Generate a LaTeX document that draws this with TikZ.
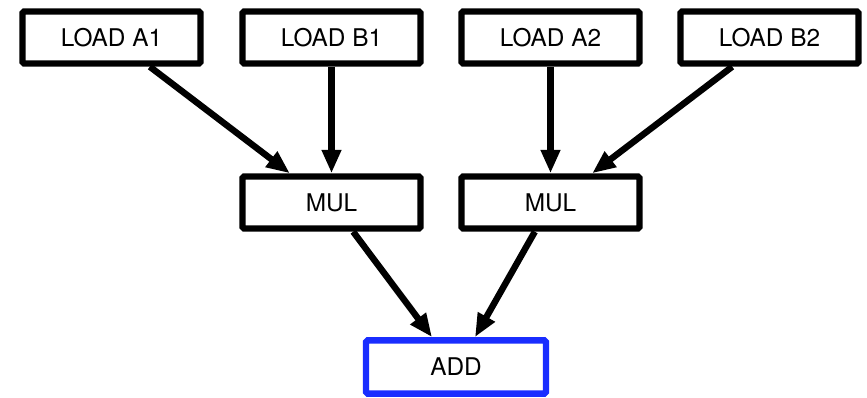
\documentclass[tikz,border=0pt]{standalone}
\usepackage{fontspec}
\setmainfont{TeX Gyre Heros}
\usetikzlibrary{arrows.meta,calc}
\definecolor{addblue}{RGB}{25,45,255}

\begin{document}
\begin{tikzpicture}[
  every node/.style={font=\fontsize{20.8}{24}\selectfont},
  op/.style={draw, line width=5.5pt, rounded corners=1.5pt, inner sep=2pt,
    minimum width=5.34cm, minimum height=1.56cm},
  sink/.style={draw=addblue},
  arr/.style={line width=5.5pt, -{Triangle[length=7mm, width=5.5mm]}}]
\useasboundingbox (0,0) rectangle (26.01,11.91);
% loads
\node[op] (la1) at (3.345,10.785) {LOAD A1};
\node[op] (lb1) at (9.945,10.785) {LOAD B1};
\node[op] (la2) at (16.515,10.785) {LOAD A2};
\node[op] (lb2) at (23.085,10.785) {LOAD B2};
% products
\node[op] (mul1) at (9.945,5.835) {MUL};
\node[op] (mul2) at (16.515,5.835) {MUL};
% sum
\node[op, sink, minimum width=5.4cm, minimum height=1.6cm] (add) at (13.68,0.9) {ADD};
\draw[arr] ($(la1.south)+(1.15,0)$) -- ($(mul1.north)+(-1.25,0)$);
\draw[arr] (lb1.south) -- (mul1.north);
\draw[arr] (la2.south) -- (mul2.north);
\draw[arr] ($(lb2.south)+(-1.12,0)$) -- ($(mul2.north)+(1.25,0)$);
\draw[arr] ($(mul1.south)+(0.65,0)$) -- ($(add.north)+(-0.72,0)$);
\draw[arr] ($(mul2.south)+(-0.47,0)$) -- ($(add.north)+(0.57,0)$);
\end{tikzpicture}
\end{document}
